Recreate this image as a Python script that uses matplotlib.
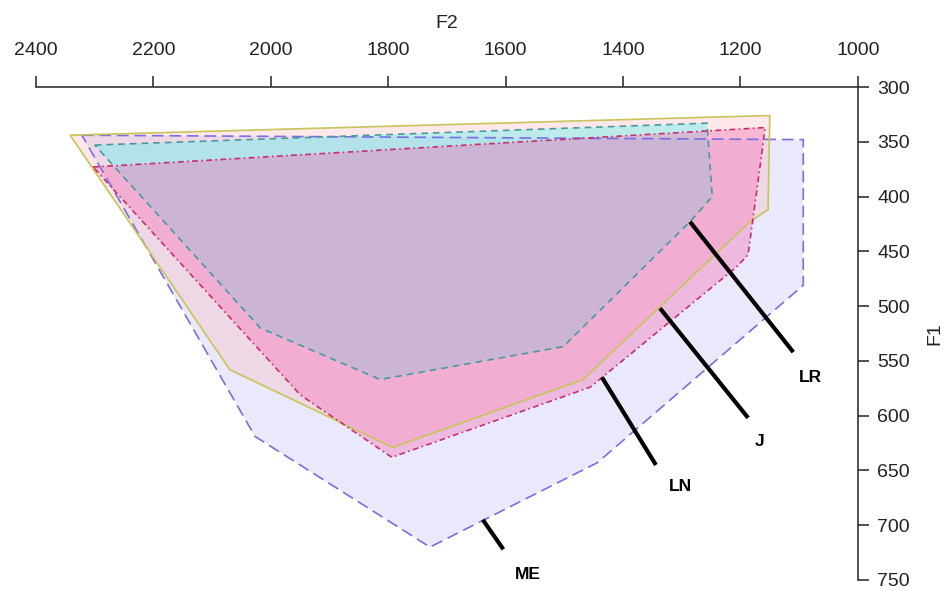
import numpy as np
import matplotlib
matplotlib.use("Agg")
import matplotlib.pyplot as plt
from matplotlib.patches import Polygon

plt.rcParams['font.family'] = ['Liberation Sans', 'DejaVu Sans']

# vowel space polygons (F2, F1 in Hz)
me_f2 = [2322, 1093, 1093, 1444, 1729, 2027]
me_f1 = [344, 348, 481, 643, 720, 619]

j_f2 = [2342, 1150, 1153, 1184, 1468, 1792, 2070]
j_f1 = [344, 326, 412, 423, 567, 629, 558]

lr_f2 = [2300, 1257, 1248, 1286, 1502, 1814, 2018]
lr_f1 = [353, 333, 400, 423, 537, 567, 520]

ln_f2 = [2303, 1158, 1167, 1187, 1206, 1456, 1794, 1950]
ln_f1 = [373, 337, 374, 453, 464, 574, 638, 581]

# speaker labels: leader line start, leader line end, text position
labels = ['LR', 'J', 'LN', 'ME']
lead_start_f2 = [1286, 1337, 1436, 1639]
lead_start_f1 = [423, 502, 565, 695]
lead_end_f2 = [1110, 1187, 1344, 1604]
lead_end_f1 = [542, 602, 645, 722]
text_f2 = [1100, 1175, 1322, 1585]
text_f1 = [565, 624, 665, 745]

x_ticks = [2400, 2200, 2000, 1800, 1600, 1400, 1200, 1000]
y_ticks = [300, 350, 400, 450, 500, 550, 600, 650, 700, 750]

fig = plt.figure(figsize=(9.5, 5.9), dpi=100)
ax = fig.add_axes([0.038, 0.017, 0.865, 0.8355])

# fills, drawn in order so the overlaps mix like the original
shapes = [
    (me_f2, me_f1, (0.50, 0.50, 0.92), 0.17, '#7a6fe0', (0, (7, 3.5))),
    (j_f2, j_f1, (1.00, 0.70, 0.72), 0.30, '#c8c45a', '-'),
    (lr_f2, lr_f1, (0.35, 0.95, 0.95), 0.40, '#4a9a9a', (0, (4, 3))),
    (ln_f2, ln_f1, (0.97, 0.42, 0.70), 0.38, '#c8306a', (0, (3.5, 2, 1, 2))),
]
for f2, f1, face, alpha, edge, ls in shapes:
    pts = np.column_stack([f2, f1])
    ax.add_patch(Polygon(pts, closed=True, facecolor=face, alpha=alpha,
                         edgecolor='none', zorder=1))
for f2, f1, face, alpha, edge, ls in shapes:
    pts = np.column_stack([f2, f1])
    ax.add_patch(Polygon(pts, closed=True, facecolor='none', edgecolor=edge,
                         linewidth=1.2, linestyle=ls, zorder=2))

for i, lab in enumerate(labels):
    ax.plot([lead_start_f2[i], lead_end_f2[i]], [lead_start_f1[i], lead_end_f1[i]],
            color='black', linewidth=3, solid_capstyle='butt', zorder=3)
    ax.text(text_f2[i], text_f1[i], lab, fontsize=12.5, fontweight='bold',
            ha='left', va='center', zorder=4)

ax.set_xlim(2400, 1000)
ax.set_ylim(750, 300)
ax.set_xticks(x_ticks)
ax.set_yticks(y_ticks)
ax.xaxis.tick_top()
ax.xaxis.set_label_position('top')
ax.yaxis.tick_right()
ax.yaxis.set_label_position('right')
ax.spines['bottom'].set_visible(False)
ax.spines['left'].set_visible(False)
for s in ['top', 'right']:
    ax.spines[s].set_color('#333333')
    ax.spines[s].set_linewidth(1.2)
ax.tick_params(axis='both', direction='out', length=8, width=1.2,
               color='#333333', labelsize=14, labelcolor='#222222')
ax.tick_params(axis='x', pad=12)
ax.tick_params(axis='y', pad=6)
ax.set_xlabel('F2', fontsize=14, color='#222222', labelpad=10)
ax.set_ylabel('F1', fontsize=14, color='#222222', labelpad=12)

fig.savefig('out.png', dpi=100)
